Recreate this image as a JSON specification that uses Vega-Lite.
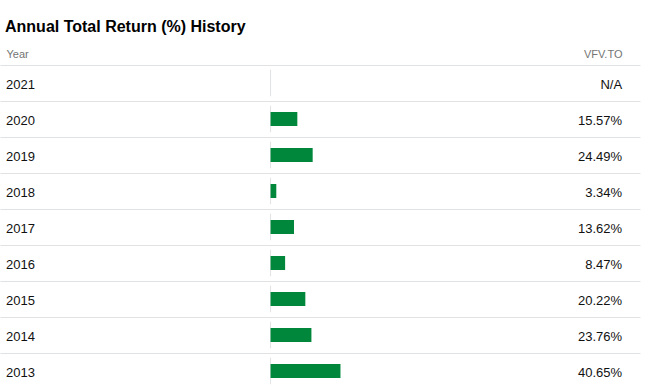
{
  "$schema": "https://vega.github.io/schema/vega-lite/v6.json",
  "autosize": {"type": "none"},
  "width": 640,
  "height": 324,
  "padding": {"left": 0, "top": 65, "right": 15, "bottom": 0},
  "background": "white",
  "title": {
    "text": "Annual Total Return (%) History",
    "anchor": "start",
    "font": "Liberation Sans",
    "fontSize": 16,
    "fontWeight": "bold",
    "color": "#000000",
    "dx": 5,
    "offset": 13
  },
  "config": {
    "view": {"stroke": null},
    "font": "Liberation Sans"
  },
  "data": {
    "values": [
      {"year": "2021", "ret": null, "label": "N/A"},
      {"year": "2020", "ret": 15.57, "label": "15.57%"},
      {"year": "2019", "ret": 24.49, "label": "24.49%"},
      {"year": "2018", "ret": 3.34, "label": "3.34%"},
      {"year": "2017", "ret": 13.62, "label": "13.62%"},
      {"year": "2016", "ret": 8.47, "label": "8.47%"},
      {"year": "2015", "ret": 20.22, "label": "20.22%"},
      {"year": "2014", "ret": 23.76, "label": "23.76%"},
      {"year": "2013", "ret": 40.65, "label": "40.65%"}
    ]
  },
  "encoding": {
    "y": {
      "field": "year",
      "type": "ordinal",
      "sort": "descending",
      "scale": {"paddingInner": 0, "paddingOuter": 0},
      "axis": {
        "title": "Year",
        "titleAngle": 0,
        "titleX": 6,
        "titleY": -8,
        "titleAlign": "left",
        "titleBaseline": "alphabetic",
        "titleFontSize": 11,
        "titleFontWeight": "normal",
        "titleColor": "#757575",
        "labels": false,
        "ticks": false,
        "domain": false,
        "grid": true,
        "bandPosition": 0,
        "gridColor": "#e0e2e4",
        "gridWidth": 1
      }
    }
  },
  "layer": [
    {
      "mark": {"type": "bar", "color": "#e0e2e4", "height": {"band": 0.74}},
      "encoding": {
        "x": {
          "datum": -0.29,
          "type": "quantitative",
          "scale": {"domain": [-157.3, 214.8], "zero": false, "nice": false},
          "axis": {
            "orient": "top",
            "title": "VFV.TO",
            "titleX": 622,
            "titleY": -8,
            "titleAlign": "right",
            "titleBaseline": "alphabetic",
            "titleFontSize": 11,
            "titleFontWeight": "normal",
            "titleColor": "#757575",
            "labels": false,
            "ticks": false,
            "domain": false,
            "grid": false
          }
        },
        "x2": {"datum": 0.29}
      }
    },
    {
      "mark": {"type": "bar", "color": "#00873c", "height": {"band": 0.39}},
      "transform": [{"filter": "datum.ret != null"}],
      "encoding": {
        "x": {"field": "ret", "type": "quantitative"},
        "x2": {"datum": 0}
      }
    },
    {
      "mark": {"type": "text", "align": "left", "baseline": "middle", "fontSize": 13, "color": "#111111", "dy": 1.5},
      "encoding": {
        "x": {"datum": -153.8, "type": "quantitative"},
        "text": {"field": "year"}
      }
    },
    {
      "mark": {"type": "text", "align": "right", "baseline": "middle", "fontSize": 13, "color": "#111111", "dy": 1.5},
      "encoding": {
        "x": {"datum": 204.4, "type": "quantitative"},
        "text": {"field": "label"}
      }
    }
  ]
}
